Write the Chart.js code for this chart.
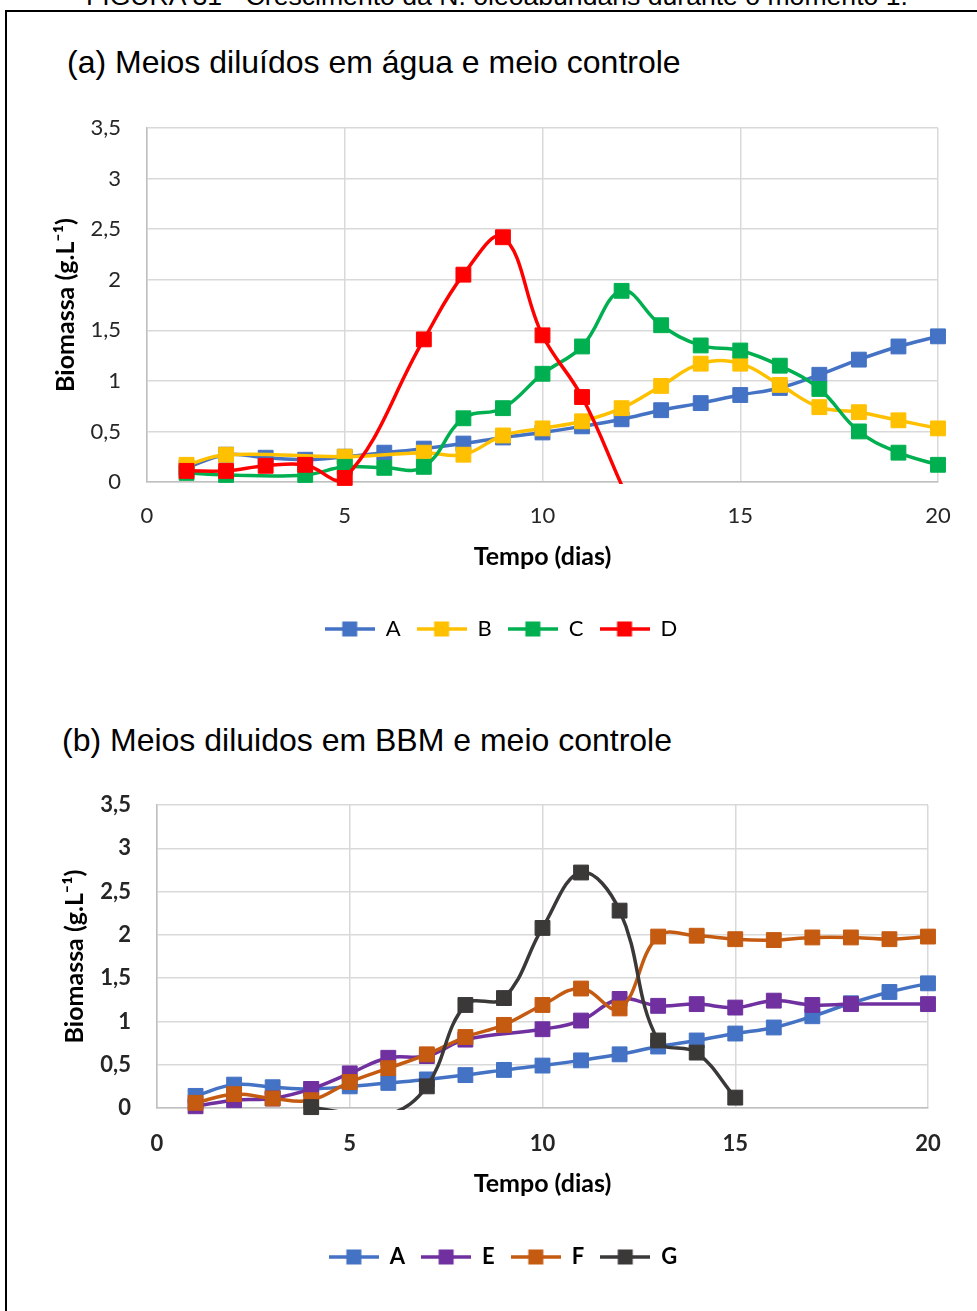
<!DOCTYPE html>
<html>
<head>
<meta charset="utf-8">
<script src="https://cdn.jsdelivr.net/npm/chart.js@4.4.1/dist/chart.umd.min.js"></script>
<style>
  html, body { margin: 0; padding: 0; background: #fff; }
  body { width: 977px; height: 1311px; position: relative; overflow: hidden; font-family: "Liberation Sans", Arial, sans-serif; }
  #frame { position: absolute; left: 5px; top: 10px; width: 1000px; height: 1400px; border-left: 2px solid #000; border-top: 2px solid #000; }
  .caption { position: absolute; left: 86px; top: -17px; font-size: 26.6px; line-height: 26px; white-space: nowrap; color: #000; }
  .ttl { position: absolute; font-size: 32px; line-height: 38px; color: #000; white-space: nowrap; }
  #ttlA { left: 67px; top: 43px; }
  #ttlB { left: 62px; top: 721px; }
  #wrapA { position: absolute; left: 0; top: 0; width: 977px; height: 660px; }
  #wrapB { position: absolute; left: 0; top: 680px; width: 977px; height: 631px; }
</style>
</head>
<body>
<div class="caption">FIGURA 31 - Crescimento da N. oleoabundans durante o momento 1.</div>
<div id="frame"></div>
<div class="ttl" id="ttlA">(a) Meios diluídos em água e meio controle</div>
<div class="ttl" id="ttlB">(b) Meios diluidos em BBM e meio controle</div>
<div id="wrapA"><canvas id="chartA"></canvas></div>
<div id="wrapB"><canvas id="chartB"></canvas></div>
<script>
// Tempo (dias)
const days = [1, 2, 3, 4, 5, 6, 7, 8, 9, 10, 11, 12, 13, 14, 15, 16, 17, 18, 19, 20];

// Biomassa (g.L-1) per medium; null = no measurement that day
const serieA = [0.14, 0.27, 0.24, 0.22, 0.25, 0.29, 0.33, 0.38, 0.44, 0.49, 0.55, 0.62, 0.71, 0.78, 0.86, 0.93, 1.06, 1.21, 1.34, 1.44];
const serieB = [0.17, 0.27, null, null, 0.25, null, 0.29, 0.27, 0.46, 0.53, 0.60, 0.73, 0.95, 1.17, 1.17, 0.96, 0.74, 0.69, 0.61, 0.53];
const serieC = [0.09, 0.07, null, 0.07, 0.15, 0.14, 0.15, 0.63, 0.73, 1.07, 1.34, 1.89, 1.55, 1.35, 1.30, 1.15, 0.92, 0.50, 0.29, 0.17];
const serieD = [0.11, 0.11, 0.16, 0.17, 0.04, null, 1.41, 2.05, 2.42, 1.45, 0.84, -0.03, null, null, null, null, null, null, null, null];
const serieE = [0.02, 0.09, 0.11, 0.22, 0.40, 0.58, 0.60, 0.79, null, 0.91, 1.01, 1.26, 1.18, 1.20, 1.16, 1.24, 1.19, 1.20, null, 1.20];
const serieF = [0.06, 0.16, 0.11, 0.09, 0.30, 0.46, 0.62, 0.82, 0.96, 1.19, 1.38, 1.15, 1.98, 1.99, 1.95, 1.94, 1.97, 1.97, 1.95, 1.98];
const serieG = [null, null, null, 0.01, -0.06, -0.08, 0.25, 1.19, 1.27, 2.08, 2.72, 2.28, 0.78, 0.64, 0.12, null, null, null, null, null];

// Axis ticks
const xTickValues = [0, 5, 10, 15, 20];
const yTickValues = [0, 0.5, 1, 1.5, 2, 2.5, 3, 3.5];

const FONT = 'Lato, "DejaVu Sans", sans-serif';

function points(values) {
  return days.map((d, i) => ({ x: d, y: values[i] }));
}

// Legend swatch: short line with a square marker in the middle
function legendIcon(color) {
  const c = document.createElement('canvas');
  c.width = 50; c.height = 16;
  const g = c.getContext('2d');
  g.strokeStyle = color; g.lineWidth = 3.5;
  g.beginPath(); g.moveTo(0, 8); g.lineTo(50, 8); g.stroke();
  g.fillStyle = color;
  g.fillRect(17.5, 0.5, 15, 15);
  return c;
}

function series(label, values, color, order) {
  return {
    label,
    data: points(values),
    borderColor: color,
    backgroundColor: color,
    borderWidth: 3.5,
    tension: 0.4,
    spanGaps: true,
    pointStyle: 'rect',
    pointRadius: (ctx) => (ctx.raw && ctx.raw.y < 0) ? 0 : 10.5,
    pointHoverRadius: (ctx) => (ctx.raw && ctx.raw.y < 0) ? 0 : 10.5,
    pointBorderWidth: 1,
    pointBorderColor: color,
    pointBackgroundColor: color,
    clip: false,
    order
  };
}

// Lines are cut at the plot area; markers are not
const lineOnlyClip = {
  id: 'lineOnlyClip',
  beforeDatasetsDraw(chart) {
    chart.getSortedVisibleDatasetMetas().forEach((meta) => {
      const el = meta.dataset;
      if (el && !el._clipWrapped) {
        const draw = el.draw;
        el.draw = function (ctx, area) {
          const a = chart.chartArea;
          ctx.save();
          ctx.beginPath();
          ctx.rect(a.left, a.top, a.right - a.left, a.bottom - a.top + 2);
          ctx.clip();
          draw.call(this, ctx, area);
          ctx.restore();
        };
        el._clipWrapped = true;
      }
    });
  }
};

// Horizontal offset of the legend row
const legendShift = {
  id: 'legendShift',
  afterLayout(chart, args, opts) {
    const lg = chart.legend;
    if (lg && opts.dx) { lg.left += opts.dx; lg.right += opts.dx; }
  }
};

function makeChart(canvasId, datasets, cfg) {
  const tickFont = { family: FONT, size: 22, weight: cfg.boldTicks ? 'bold' : 'normal' };
  return new Chart(document.getElementById(canvasId), {
    type: 'line',
    data: { datasets },
    plugins: [lineOnlyClip, legendShift],
    options: {
      responsive: true,
      maintainAspectRatio: false,
      animation: false,
      events: [],
      layout: { padding: { left: 0, right: cfg.padRight, top: cfg.padTop, bottom: cfg.padBottom } },
      elements: { line: { capBezierPoints: false } },
      scales: {
        x: {
          type: 'linear',
          min: 0, max: 20,
          afterBuildTicks: (s) => { s.ticks = xTickValues.map((v) => ({ value: v })); },
          afterFit: (s) => { s.height = cfg.xAxisHeight; },
          ticks: { color: '#262626', font: tickFont, padding: cfg.xTickPad, maxRotation: 0, autoSkip: false },
          grid: { color: '#d9d9d9', lineWidth: 1.5, drawTicks: false },
          border: { color: '#bfbfbf', width: 1.5 },
          title: {
            display: true, text: 'Tempo (dias)', color: '#000',
            font: { family: FONT, size: 25, weight: 'bold' },
            padding: { top: 0, bottom: cfg.xTitlePad }
          }
        },
        y: {
          type: 'linear',
          min: 0, max: 3.5,
          afterBuildTicks: (s) => { s.ticks = yTickValues.map((v) => ({ value: v })); },
          afterFit: (s) => { s.width = cfg.yAxisWidth; },
          ticks: {
            color: '#262626', font: tickFont, padding: 26,
            callback: (v) => String(v).replace('.', ',')
          },
          grid: { color: '#d9d9d9', lineWidth: 1.5, drawTicks: false },
          border: { color: '#bfbfbf', width: 1.5 },
          title: {
            display: true, text: 'Biomassa (g.L⁻¹)', color: '#000',
            font: { family: FONT, size: 25, weight: 'bold' },
            padding: { top: cfg.yTitlePad, bottom: 0 }
          }
        }
      },
      plugins: {
        tooltip: { enabled: false },
        legendShift: { dx: cfg.legendDx },
        legend: {
          display: true,
          position: 'bottom',
          labels: {
            usePointStyle: true,
            pointStyleWidth: 50,
            padding: 16,
            color: '#000',
            font: { family: FONT, size: 22, weight: cfg.boldTicks ? 'bold' : 'normal' },
            generateLabels: (chart) => chart.data.datasets.map((ds, i) => ({
              text: ds.label,
              datasetIndex: i,
              pointStyle: legendIcon(ds.borderColor),
              fillStyle: ds.borderColor,
              strokeStyle: ds.borderColor,
              lineWidth: 0,
              fontColor: '#000',
              hidden: !chart.isDatasetVisible(i)
            }))
          }
        }
      }
    }
  });
}

makeChart('chartA', [
  series('A', serieA, '#4472C4', 4),
  series('B', serieB, '#FFC000', 3),
  series('C', serieC, '#00B050', 2),
  series('D', serieD, '#FF0000', 1)
], {
  padTop: 128, padRight: 39, padBottom: 10,
  yAxisWidth: 147, yTitlePad: 51,
  xAxisHeight: 120, xTickPad: 21, xTitlePad: 30,
  legendDx: 32, boldTicks: false
});

makeChart('chartB', [
  series('A', serieA, '#4472C4', 4),
  series('E', serieE, '#7030A0', 3),
  series('F', serieF, '#C55A11', 2),
  series('G', serieG, '#3B3838', 1)
], {
  padTop: 125, padRight: 49, padBottom: 33,
  yAxisWidth: 157, yTitlePad: 60,
  xAxisHeight: 122, xTickPad: 23, xTitlePad: 31,
  legendDx: 39, boldTicks: true
});
</script>
</body>
</html>
